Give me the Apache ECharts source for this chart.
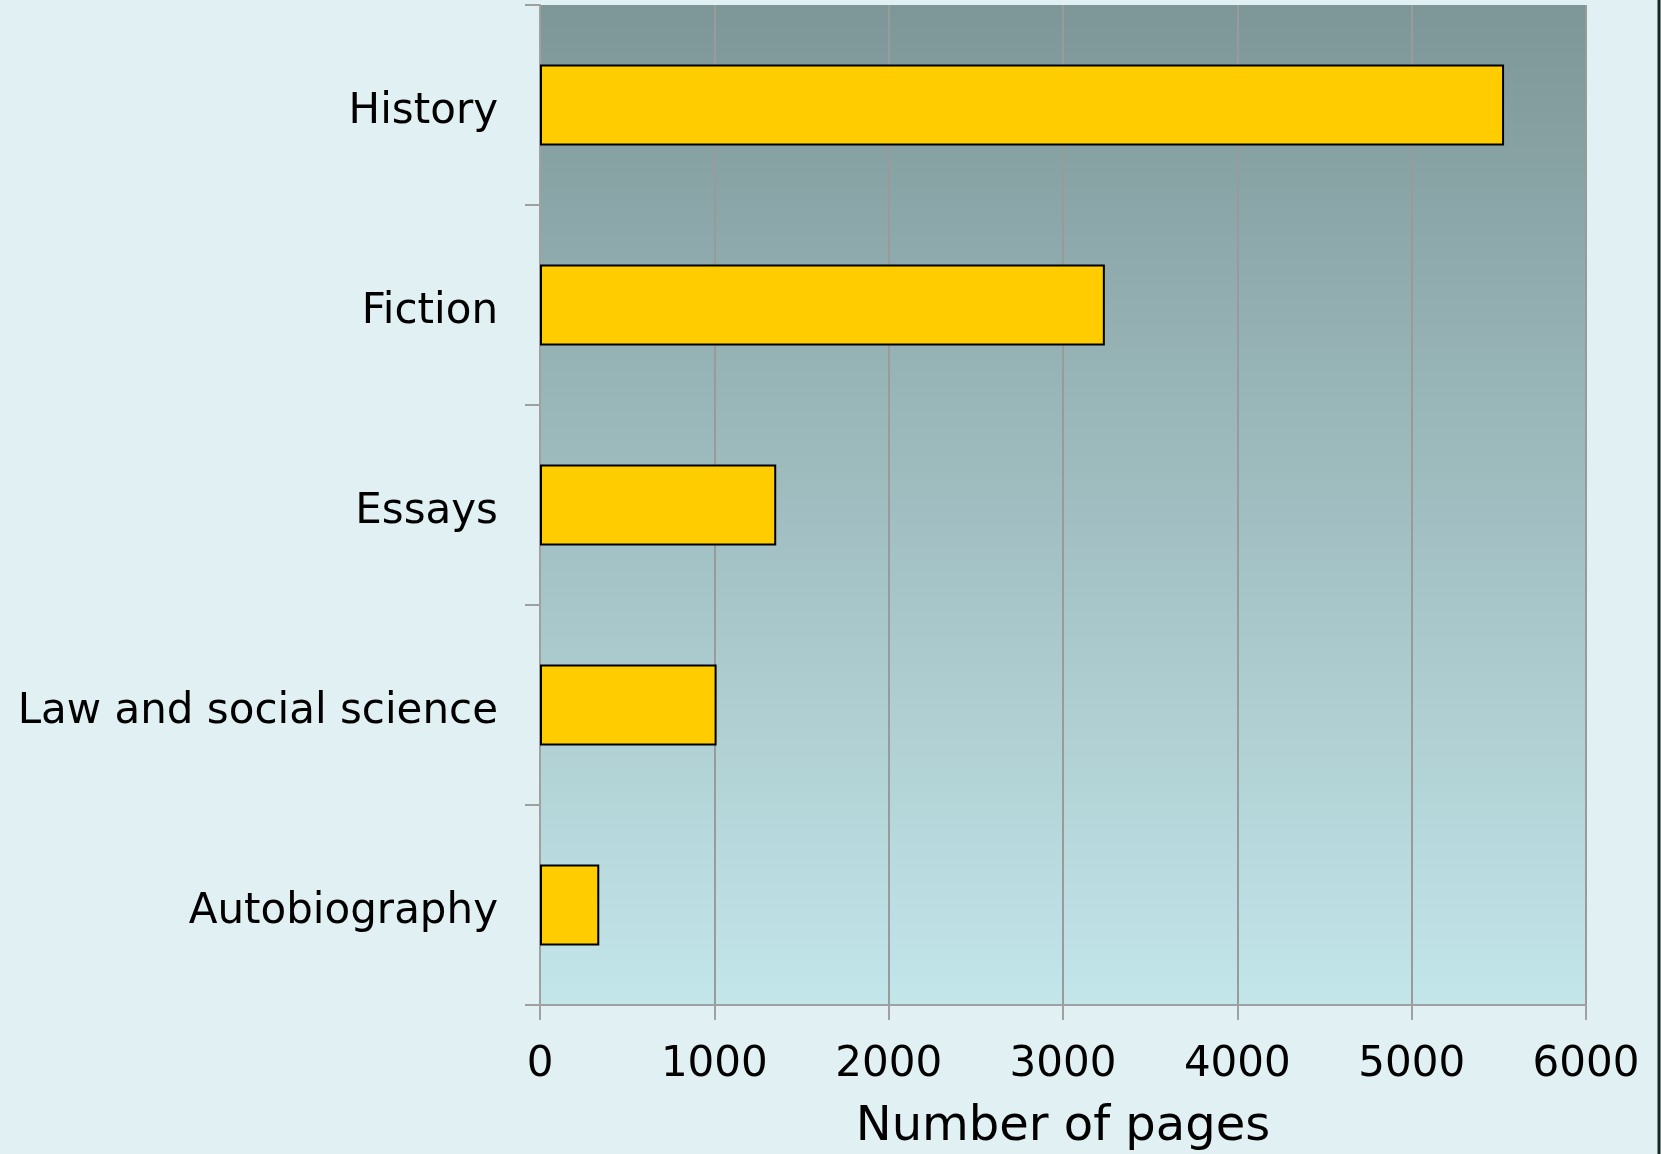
<!DOCTYPE html>
<html><head><meta charset="utf-8">
<script src="https://cdn.jsdelivr.net/npm/echarts@6/dist/echarts.min.js"></script>
<style>html,body{margin:0;padding:0;background:#e1f0f3;}#c{width:1661px;height:1154px;}</style>
</head><body><div id="c"></div>
<script>
const categories = ["History", "Fiction", "Essays", "Law and social science", "Autobiography"];
const pages = [5530, 3240, 1355, 1013, 340];
const xTicks = [0, 1000, 2000, 3000, 4000, 5000, 6000];
const axisName = "Number of pages";

const chart = echarts.init(document.getElementById('c'));
const font = "'DejaVu Sans', Verdana, sans-serif";
chart.setOption({
  backgroundColor: '#e1f0f3',
  animation: false,
  grid: {
    left: 540, right: 75, top: 5, bottom: 149,
    containLabel: false, outerBoundsMode: 'none',
    show: true, borderWidth: 0,
    backgroundColor: new echarts.graphic.LinearGradient(0, 0, 0, 1, [
      {offset: 0, color: '#7d9697'},
      {offset: 1, color: '#c3e6ea'}
    ])
  },
  xAxis: {
    type: 'value', min: xTicks[0], max: xTicks[xTicks.length - 1], interval: 1000,
    axisLine: {show: true, lineStyle: {color: '#a0a0a0', width: 2}},
    axisTick: {show: true, length: 15, lineStyle: {color: '#a0a0a0', width: 2}},
    splitLine: {show: true, lineStyle: {color: '#9a9a9a', width: 2}},
    axisLabel: {color: '#000', fontSize: 42, fontFamily: font, margin: 39,
      formatter: function (v) { return String(v); }},
    name: axisName, nameLocation: 'middle', nameGap: 99,
    nameTextStyle: {color: '#000', fontSize: 48, fontFamily: font, verticalAlign: 'top'}
  },
  yAxis: {
    type: 'category', data: categories, inverse: true,
    axisLine: {show: true, lineStyle: {color: '#a0a0a0', width: 2}},
    axisTick: {show: true, length: 15, lineStyle: {color: '#a0a0a0', width: 2}},
    splitLine: {show: false},
    axisLabel: {color: '#000', fontSize: 42, fontFamily: font, margin: 42,
      verticalAlign: 'top', lineHeight: 15}
  },
  series: [{
    type: 'bar', data: pages, barWidth: '40.5%',
    itemStyle: {color: '#ffcc00', borderColor: '#000', borderWidth: 2}
  }],
  graphic: [{
    type: 'line', shape: {x1: 1659, y1: 0, x2: 1659, y2: 1154},
    style: {stroke: '#1a2626', lineWidth: 3}, silent: true
  }]
});
</script></body></html>
